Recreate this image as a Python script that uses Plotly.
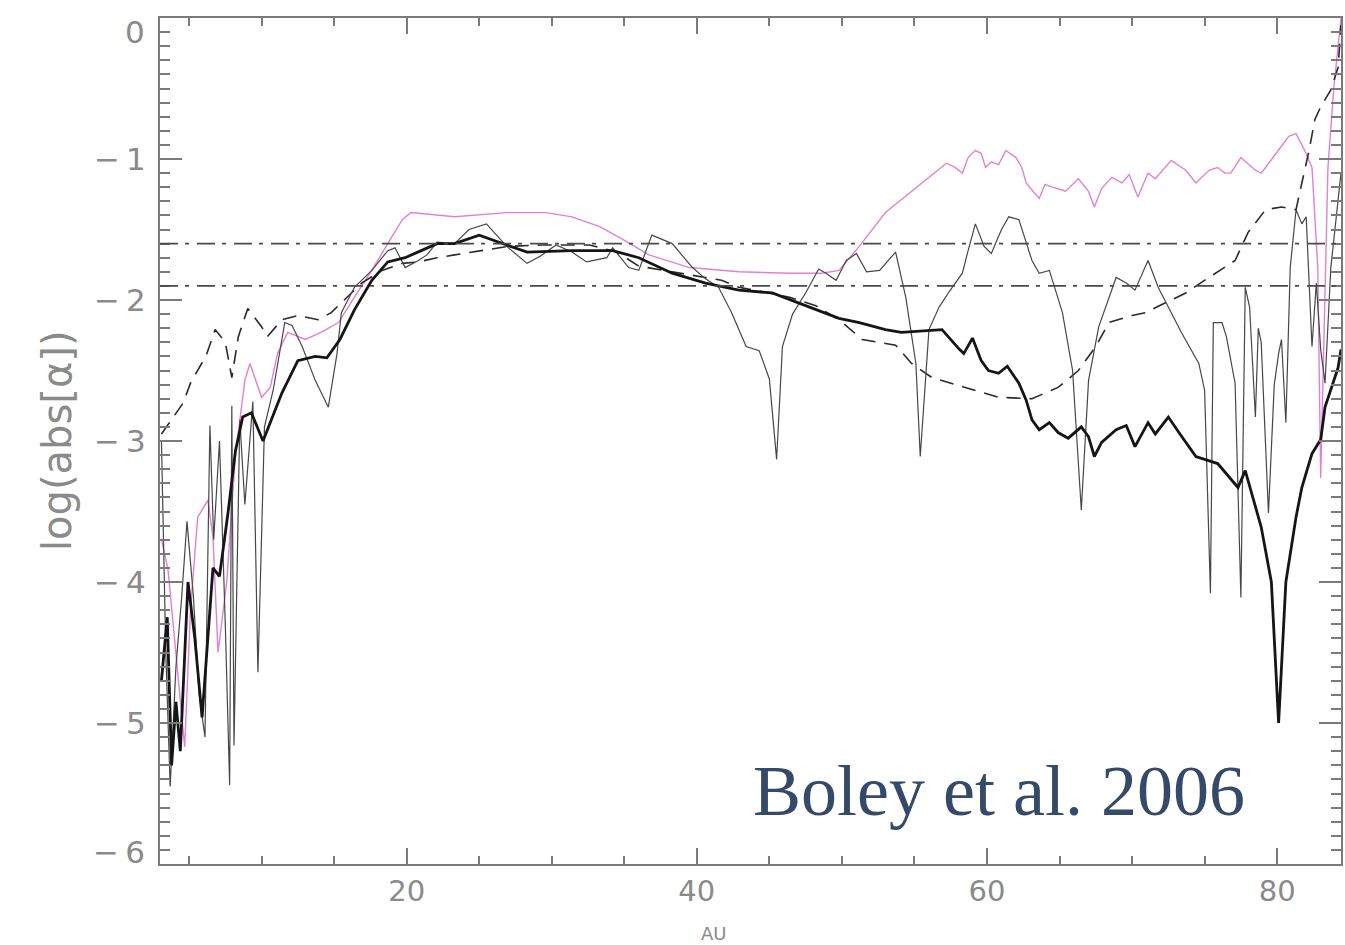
import plotly.graph_objects as go

# ---- data (AU, log|alpha|) ----
thin_x = [3.1, 3.4, 3.7, 4.1, 4.5, 4.86, 5.3, 5.7, 6.1, 6.44, 6.7, 7.1, 7.5, 7.8, 7.95, 8.1, 8.5, 8.85, 9.4, 9.75,
          10.2, 10.8, 11.6, 12.1, 12.8, 13.7, 14.6, 15.2, 15.5, 16.4, 17.6, 18.7, 19.2, 19.9, 20.8, 21.4, 22.1, 23.3,
          24.3, 25.5, 26.9, 28.3, 29.2, 30.3, 31.4, 32.4, 33.8, 34.2, 35.3, 36.0, 36.9, 38.3, 39.7, 40.6, 41.5, 42.4,
          43.4, 44.3, 45.0, 45.3, 45.5, 45.9, 46.6, 47.5, 48.4, 48.9, 49.6, 50.3, 51.0, 51.7, 52.6, 53.7, 54.4, 55.1,
          55.4, 56.0, 56.7, 57.4, 58.3, 58.7, 59.2, 59.8, 60.3, 61.0, 61.5, 62.2, 63.1, 63.6, 64.3, 65.2, 65.9, 66.5,
          67.0, 67.7, 68.9, 69.6, 70.2, 71.1, 71.8, 73.4, 74.6, 75.0, 75.4, 75.6, 76.2, 76.5, 77.1, 77.5, 77.8, 78.1,
          78.5, 78.7, 78.9, 79.4, 79.8, 80.1, 80.3, 80.6, 80.9, 81.3, 81.7, 82.0, 82.4, 82.7, 83.0, 83.3, 83.7, 84.2, 84.4]
thin_y = [-3.0, -4.5, -5.45, -4.6, -4.1, -3.57, -4.1, -4.8, -5.1, -2.89, -3.7, -3.0, -4.3, -5.44, -2.75, -5.16, -2.85, -3.45, -2.72, -4.64,
          -2.9, -2.64, -2.16, -2.18, -2.33, -2.57, -2.76, -2.38, -2.09, -1.91, -1.79, -1.65, -1.63, -1.77, -1.72, -1.68, -1.59, -1.6,
          -1.5, -1.46, -1.62, -1.74, -1.69, -1.61, -1.66, -1.73, -1.7, -1.63, -1.77, -1.79, -1.54, -1.6, -1.77, -1.85, -1.91, -2.09,
          -2.33, -2.36, -2.56, -2.92, -3.13, -2.33, -2.1, -1.95, -1.78, -1.81, -1.86, -1.72, -1.67, -1.8, -1.79, -1.66, -1.98, -2.45,
          -3.11, -2.21, -2.05, -1.94, -1.81, -1.65, -1.46, -1.62, -1.67, -1.5, -1.41, -1.43, -1.72, -1.81, -1.79, -2.09, -2.5, -3.49,
          -2.57, -2.19, -1.84, -1.88, -1.93, -1.72, -1.91, -2.23, -2.45, -2.64, -4.08, -2.16, -2.16, -2.26, -2.59, -4.11, -1.91, -2.05,
          -2.83, -2.2, -2.3, -3.51, -2.6, -2.38, -2.28, -2.87, -1.77, -1.36, -1.46, -1.41, -2.33, -1.88, -2.35, -2.59, -1.77, -1.29, -1.1]

thick_x = [3.1, 3.5, 3.8, 4.1, 4.4, 4.93, 5.4, 5.9, 6.65, 7.1, 7.7, 8.2, 8.7, 9.3, 10.1, 11.4, 12.5, 13.7, 14.5, 15.4,
           16.4, 17.6, 18.7, 19.9, 21.0, 22.1, 23.3, 25.0, 26.9, 28.3, 31.4, 34.2, 36.0, 38.3, 40.6, 42.9, 45.2, 47.0,
           49.8, 51.2, 53.0, 54.1, 56.9, 58.1, 58.4, 59.0, 59.6, 60.1, 60.8, 61.4, 62.2, 62.7, 63.1, 63.6, 64.3, 64.9,
           65.6, 66.5, 67.0, 67.4, 67.9, 68.9, 69.6, 70.2, 71.1, 71.6, 72.5, 73.3, 74.4, 75.9, 77.3, 77.8, 78.9, 79.6,
           80.1, 80.6, 81.3, 81.7, 82.4, 83.0, 83.3, 84.2, 84.4]
thick_y = [-4.7, -4.25, -5.3, -4.85, -5.2, -4.0, -4.4, -4.96, -3.9, -3.96, -3.5, -3.07, -2.83, -2.8, -3.0, -2.66, -2.43, -2.4, -2.41, -2.28,
           -2.07, -1.86, -1.73, -1.7, -1.65, -1.6, -1.6, -1.54, -1.61, -1.66, -1.65, -1.65, -1.7, -1.81, -1.88, -1.93, -1.95, -2.02,
           -2.13, -2.16, -2.21, -2.23, -2.21, -2.35, -2.38, -2.27, -2.43, -2.5, -2.52, -2.47, -2.59, -2.71, -2.85, -2.92, -2.87, -2.94,
           -2.98, -2.9, -2.97, -3.11, -3.01, -2.92, -2.89, -3.04, -2.87, -2.95, -2.83, -2.95, -3.11, -3.16, -3.33, -3.21, -3.61, -4.0,
           -5.0, -4.0, -3.54, -3.33, -3.09, -2.99, -2.76, -2.48, -2.35]

dash_x = [3.1, 3.8, 4.6, 5.1, 6.2, 6.8, 7.5, 7.95, 8.4, 9.05, 10.0, 10.4, 11.4, 12.5, 13.9, 14.8, 15.7, 16.9, 18.3, 19.7,
          20.8, 22.1, 23.3, 25.0, 27.0, 29.2, 32.6, 34.5, 36.0, 38.3, 41.7, 42.9, 46.4, 48.2, 49.8, 51.4, 53.7, 54.8,
          56.2, 58.5, 60.8, 63.1, 64.9, 66.3, 67.5, 68.4, 70.0, 70.9, 72.3, 73.7, 75.3, 77.1, 78.0, 79.2, 80.3, 81.3,
          81.7, 82.2, 82.6, 83.0, 83.7, 84.2, 84.4]
dash_y = [-2.95, -2.85, -2.73, -2.59, -2.39, -2.21, -2.3, -2.55, -2.26, -2.06, -2.19, -2.26, -2.14, -2.11, -2.14, -2.09, -2.0, -1.88, -1.79, -1.74,
          -1.73, -1.7, -1.68, -1.65, -1.62, -1.61, -1.61, -1.66, -1.76, -1.8, -1.86, -1.91, -1.98, -2.04, -2.14, -2.28, -2.32, -2.45,
          -2.55, -2.62, -2.69, -2.7, -2.62, -2.5, -2.33, -2.16, -2.11, -2.09, -2.02, -1.95, -1.84, -1.72, -1.52, -1.36, -1.34, -1.36,
          -1.17, -0.94, -0.72, -0.63, -0.51, -0.35, -0.05]

pink_x = [3.1, 3.55, 4.0, 4.7, 5.1, 5.6, 6.3, 6.65, 7.0, 7.6, 8.2, 8.85, 9.2, 10.0, 10.6, 11.1, 11.8, 13.0, 14.1, 15.3,
          16.4, 17.6, 18.7, 19.7, 20.3, 23.3, 26.9, 29.6, 31.4, 33.3, 34.9, 36.7, 39.5, 42.9, 46.4, 48.6, 49.8, 51.2,
          53.0, 56.9, 57.2, 57.8, 58.3, 58.7, 59.2, 59.6, 59.9, 60.3, 60.8, 61.3, 62.0, 62.4, 62.7, 63.1, 63.6, 64.0,
          64.5, 65.2, 65.4, 66.3, 67.0, 67.4, 67.9, 68.6, 69.3, 69.8, 70.4, 71.1, 71.6, 72.7, 73.7, 74.4, 75.3, 75.9,
          76.4, 76.8, 77.5, 78.5, 78.9, 79.2, 80.1, 80.8, 81.3, 81.9, 82.4, 82.8, 83.0, 83.5, 83.9, 84.4]
pink_y = [-3.7, -3.91, -4.4, -5.17, -4.2, -3.54, -3.42, -3.68, -4.5, -4.0, -3.1, -2.57, -2.45, -2.69, -2.62, -2.38, -2.23, -2.28, -2.23, -2.16,
          -1.98, -1.79, -1.6, -1.43, -1.38, -1.41, -1.38, -1.38, -1.41, -1.48, -1.57, -1.68, -1.77, -1.8, -1.81, -1.81, -1.79, -1.62,
          -1.38, -1.06, -1.03, -1.06, -1.1, -0.99, -0.94, -0.96, -1.06, -1.02, -1.04, -0.94, -0.99, -1.06, -1.17, -1.22, -1.28, -1.18,
          -1.2, -1.22, -1.23, -1.14, -1.23, -1.34, -1.21, -1.13, -1.17, -1.11, -1.27, -1.1, -1.14, -1.01, -1.08, -1.17, -1.08, -1.06,
          -1.1, -1.1, -0.99, -1.08, -1.1, -1.06, -0.94, -0.84, -0.82, -0.94, -1.06, -1.77, -3.26, -1.06, -0.5, 0.0]

ref_levels = [-1.6, -1.9]

# inner y ticks carry labels; the two end labels sit nudged inward (IDL style)
y_ticks = [0, -1, -2, -3, -4, -5, -6]
y_labels = ["", "\u2212\u20091", "\u2212\u20092", "\u2212\u20093", "\u2212\u20094", "\u2212\u20095", ""]
y_end_vals = [0, -6]
y_end_labels = ["0", "\u2212\u20096"]
y_end_shift = [-14, 12]
x_ticks = [20, 40, 60, 80]
x_labels = ["20", "40", "60", "80"]

GRAY = "#8a8a8a"
AXC = "#7a7a7a"
SANS = "DejaVu Sans, Liberation Sans, sans-serif"

fig = go.Figure()

fig.add_trace(go.Scatter(x=pink_x, y=pink_y, mode="lines",
                         line=dict(color="rgb(226,128,212)", width=1.4)))
fig.add_trace(go.Scatter(x=dash_x, y=dash_y, mode="lines",
                         line=dict(color="#2a2a2a", width=1.6, dash="14px,9px")))
fig.add_trace(go.Scatter(x=thin_x, y=thin_y, mode="lines",
                         line=dict(color="#474747", width=1.2)))
fig.add_trace(go.Scatter(x=thick_x, y=thick_y, mode="lines",
                         line=dict(color="#151515", width=2.8)))

for lv in ref_levels:
    fig.add_hline(y=lv, line=dict(color="#4a4a4a", width=1.6, dash="18px,7px,4px,8px"))

fig.update_layout(
    width=1345, height=945,
    margin=dict(l=160, r=2, t=18, b=81),
    plot_bgcolor="white", paper_bgcolor="white",
    showlegend=False,
    font=dict(family=SANS, color=GRAY),
)

fig.update_xaxes(
    range=[3, 84.4], showgrid=False, zeroline=False,
    showline=True, linecolor=AXC, linewidth=2, mirror="allticks",
    tickmode="array", tickvals=x_ticks, ticktext=x_labels,
    ticks="inside", ticklen=16, tickwidth=1.5, tickcolor=AXC,
    tickfont=dict(size=29, color=GRAY, family=SANS),
    minor=dict(ticks="inside", dtick=5, tick0=0, ticklen=8, tickwidth=1.5, tickcolor=AXC),
)
fig.update_yaxes(
    range=[-6, 0], showgrid=False, zeroline=False,
    showline=True, linecolor=AXC, linewidth=2, mirror="allticks",
    tickmode="array", tickvals=y_ticks, ticktext=y_labels,
    ticks="inside", ticklen=22, tickwidth=1.5, tickcolor=AXC,
    tickfont=dict(size=31, color=GRAY, family=SANS),
    ticklabelstandoff=6,
    minor=dict(ticks="inside", dtick=0.1, tick0=0, ticklen=10, tickwidth=1.5, tickcolor=AXC),
)

for v, t, s in zip(y_end_vals, y_end_labels, y_end_shift):
    fig.add_annotation(text=t, xref="paper", yref="y", x=0, y=v, xanchor="right", yanchor="middle",
                       xshift=-13, yshift=s, showarrow=False,
                       font=dict(size=31, color=GRAY, family=SANS))

fig.add_annotation(text="log(abs[\u03b1])", xref="paper", yref="paper", x=0, y=0.5,
                   xshift=-128, textangle=-90, showarrow=False,
                   font=dict(size=40, color=GRAY, family=SANS))
fig.add_annotation(text="AU", xref="paper", yref="paper", x=0.469, y=0, yshift=-82,
                   showarrow=False, font=dict(size=18, color=GRAY, family=SANS))
fig.add_annotation(text="Boley et al. 2006", xref="paper", yref="paper", x=0.71, y=0.086,
                   xanchor="center", yanchor="middle", showarrow=False,
                   font=dict(size=72, color="#344a68", family="Liberation Serif, DejaVu Serif, serif"))

fig.write_html("out.html")
